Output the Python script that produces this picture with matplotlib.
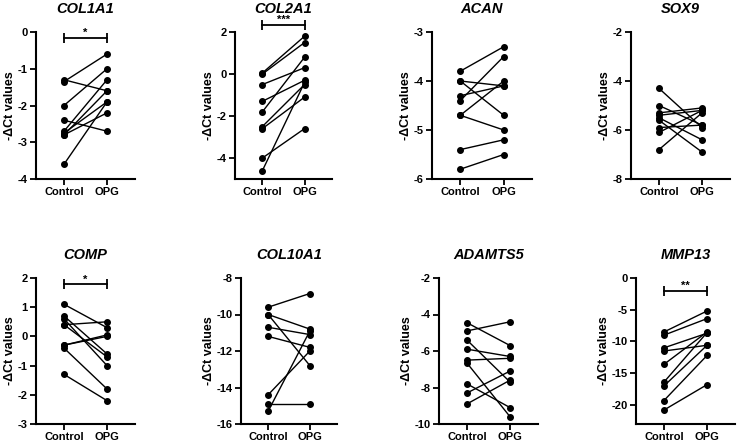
import matplotlib.pyplot as plt

plt.rcParams['font.family'] = ['Liberation Sans', 'DejaVu Sans']
plt.rcParams['axes.unicode_minus'] = False

genes = ['COL1A1', 'COL2A1', 'ACAN', 'SOX9', 'COMP', 'COL10A1', 'ADAMTS5', 'MMP13']
groups = ['Control', 'OPG']

# paired -dCt values (control, OPG)
col1a1_ctrl = [-1.3, -1.35, -2.0, -2.4, -2.7, -2.75, -2.8, -2.8, -3.6]
col1a1_opg = [-1.6, -0.6, -1.0, -2.7, -1.3, -1.9, -2.2, -1.6, -1.9]
col2a1_ctrl = [0.05, 0.0, -0.5, -1.3, -1.8, -2.5, -2.6, -4.0, -4.6]
col2a1_opg = [1.8, 1.5, 0.3, -0.3, 0.8, -0.5, -1.1, -2.6, -0.4]
acan_ctrl = [-3.8, -4.0, -4.0, -4.3, -4.4, -4.7, -4.7, -5.4, -5.8]
acan_opg = [-3.3, -4.1, -4.7, -4.1, -3.5, -4.0, -5.0, -5.2, -5.5]
sox9_ctrl = [-4.3, -5.0, -5.3, -5.4, -5.5, -5.6, -5.9, -6.1, -6.8]
sox9_opg = [-5.9, -5.8, -5.1, -5.2, -6.4, -6.9, -5.8, -5.2, -5.3]
comp_ctrl = [1.1, 0.7, 0.6, 0.4, 0.4, -0.3, -0.3, -0.4, -1.3]
comp_opg = [0.3, -0.6, -1.0, 0.5, -0.7, 0.05, 0.0, -1.8, -2.2]
col10a1_ctrl = [-9.6, -10.0, -10.0, -10.7, -11.2, -14.4, -14.9, -15.3]
col10a1_opg = [-8.85, -10.8, -12.8, -11.1, -11.8, -12.0, -14.9, -10.9]
adamts5_ctrl = [-4.45, -4.9, -5.4, -5.9, -6.5, -6.66, -7.8, -8.3, -8.9]
adamts5_opg = [-5.7, -4.4, -7.7, -6.3, -6.4, -9.6, -9.1, -7.1, -7.6]
mmp13_ctrl = [-8.5, -9.0, -11.0, -11.5, -13.6, -16.4, -17.0, -19.3, -20.8]
mmp13_opg = [-5.2, -6.4, -8.7, -10.6, -8.5, -8.6, -10.6, -12.2, -16.8]

ctrl = [col1a1_ctrl, col2a1_ctrl, acan_ctrl, sox9_ctrl, comp_ctrl, col10a1_ctrl, adamts5_ctrl, mmp13_ctrl]
opg = [col1a1_opg, col2a1_opg, acan_opg, sox9_opg, comp_opg, col10a1_opg, adamts5_opg, mmp13_opg]

yticks = [[0, -1, -2, -3, -4], [2, 0, -2, -4], [-3, -4, -5, -6], [-2, -4, -6, -8],
          [2, 1, 0, -1, -2, -3], [-8, -10, -12, -14, -16], [-2, -4, -6, -8, -10],
          [0, -5, -10, -15, -20]]
ylims = [(-4, 0), (-5, 2), (-6, -3), (-8, -2), (-3, 2), (-16, -8), (-10, -2), (-23, 0)]
# significance: (bar y, label)
sig = {0: (-0.15, '*'), 1: (2.35, '***'), 4: (1.78, '*'), 7: (-2.0, '**')}

# axes boxes in pixels (left, top, width, bottom)
W, H = 740, 445
boxes = [(36, 32, 99, 179), (235, 32, 97, 179), (432, 32, 100, 179), (631, 32, 99, 179),
         (36, 278, 99, 424), (241, 278, 96, 424), (439, 278, 99, 424), (636, 278, 99, 424)]

fig = plt.figure(figsize=(W / 100, H / 100), dpi=100)

for i, g in enumerate(genes):
    l, t, w, b = boxes[i]
    ax = fig.add_axes([l / W, 1 - b / H, w / W, (b - t) / H])
    for c, o in zip(ctrl[i], opg[i]):
        ax.plot([0, 1], [c, o], color='black', lw=1.0, marker='o', ms=4, clip_on=False, zorder=3)
    ax.set_xlim(-0.65, 1.65)
    ax.set_ylim(*ylims[i])
    ax.set_yticks(yticks[i])
    ax.set_xticks([0, 1])
    ax.set_xticklabels(groups, fontsize=8, fontweight='bold')
    for lab in ax.get_yticklabels():
        lab.set_fontsize(8)
        lab.set_fontweight('bold')
    ax.set_ylabel('-ΔCt values', fontsize=9, fontweight='bold', labelpad=1)
    ax.set_title(g, fontsize=10.5, fontweight='bold', style='italic', pad=14)
    for s in ['top', 'right']:
        ax.spines[s].set_visible(False)
    for s in ['left', 'bottom']:
        ax.spines[s].set_linewidth(1.5)
    ax.tick_params(width=1.3, length=4, pad=2)
    if i in sig:
        y, txt = sig[i]
        ax.plot([0, 1], [y, y], color='black', lw=1.3, clip_on=False)
        ax.plot([0, 1], [y, y], color='black', lw=0, marker='|', ms=7, mew=1.3, clip_on=False)
        ax.annotate(txt, (0.5, y), xytext=(0, 0), textcoords='offset points',
                    ha='center', va='bottom', fontsize=8, fontweight='bold', annotation_clip=False)

fig.savefig('out.png', dpi=100)
